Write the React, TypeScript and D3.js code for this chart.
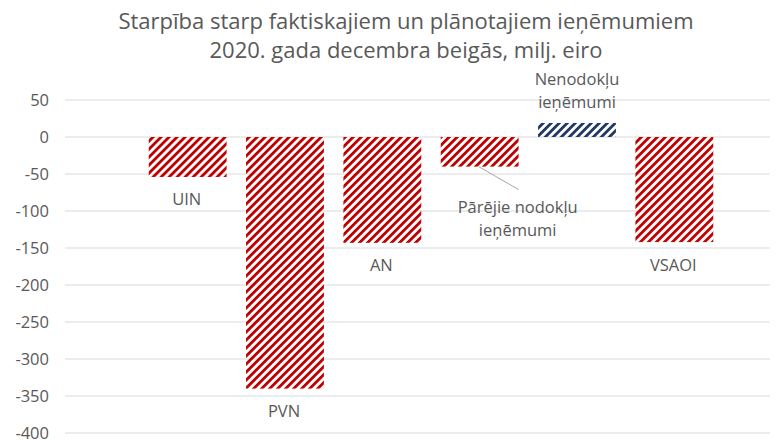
import React from "react";
import * as d3 from "d3";

const categories = ["UIN", "PVN", "AN", "Pārējie nodokļu ieņēmumi", "Nenodokļu ieņēmumi", "VSAOI"];
const values = [-54, -340, -143, -40, 19, -142];
const labelLines = [["UIN"], ["PVN"], ["AN"], ["Pārējie nodokļu", "ieņēmumi"], ["Nenodokļu", "ieņēmumi"], ["VSAOI"]];
const yTicks = [50, 0, -50, -100, -150, -200, -250, -300, -350, -400];
const titleLines = ["Starpība starp faktiskajiem un plānotajiem ieņēmumiem", "2020. gada decembra beigās, milj. eiro"];

const width = 782;
const height = 441;
const font = "'Open Sans', sans-serif";

export default function App() {
  const x = d3.scaleBand<string>().domain(categories).range([139, 723]).paddingInner(0.2).paddingOuter(0.1);
  const y = d3.scaleLinear().domain([-400, 50]).range([433, 100]);

  // where each category name sits relative to its bar end
  const labelPos = (i: number) => {
    const cx = x(categories[i])! + x.bandwidth() / 2;
    const v = values[i];
    if (i === 3) return { x: cx + 38, y: y(v) + 46 };
    if (i === 4) return { x: cx, y: y(v) - 38 };
    return { x: cx - 1, y: y(v) + 28.5 };
  };

  return (
    <svg width={width} height={height} style={{ position: "absolute", left: 0, top: 0, background: "#fff" }}>
      <defs>
        <pattern id="hatchRed" patternUnits="userSpaceOnUse" width={5.66} height={5.66} patternTransform="rotate(45)">
          <rect x={0} y={0} width={2.8} height={5.66} fill="#C00000" />
        </pattern>
        <pattern id="hatchBlue" patternUnits="userSpaceOnUse" width={5.66} height={5.66} patternTransform="rotate(45)">
          <rect x={0} y={0} width={2.8} height={5.66} fill="#1F3864" />
        </pattern>
      </defs>

      {titleLines.map((t, i) => (
        <text key={t} x={406} y={29 + i * 29} textAnchor="middle" fontFamily={font} fontSize={22} fill="#595959">
          {t}
        </text>
      ))}

      {yTicks.map((t) => (
        <g key={t}>
          <line x1={65} x2={770} y1={y(t)} y2={y(t)} stroke="#D9D9D9" strokeWidth={1} />
          <text x={49} y={y(t)} dy="0.35em" textAnchor="end" fontFamily={font} fontSize={16.5} fill="#595959">
            {t}
          </text>
        </g>
      ))}

      {categories.map((c, i) => {
        const v = values[i];
        return (
          <rect
            key={c}
            x={x(c)}
            y={y(Math.max(0, v))}
            width={x.bandwidth()}
            height={Math.abs(y(v) - y(0))}
            fill={v >= 0 ? "url(#hatchBlue)" : "url(#hatchRed)"}
          />
        );
      })}

      {(() => {
        const cx = x(categories[3])! + x.bandwidth() / 2;
        return <line x1={cx - 1} y1={y(values[3])} x2={cx + 39} y2={y(values[3]) + 23} stroke="#A6A6A6" strokeWidth={1} />;
      })()}

      {labelLines.map((lines, i) => {
        const p = labelPos(i);
        return (
          <text key={i} x={p.x} y={p.y} textAnchor="middle" fontFamily={font} fontSize={16.5} fill="#595959">
            {lines.map((l, j) => (
              <tspan key={j} x={p.x} dy={j === 0 ? 0 : 23}>
                {l}
              </tspan>
            ))}
          </text>
        );
      })}
    </svg>
  );
}
